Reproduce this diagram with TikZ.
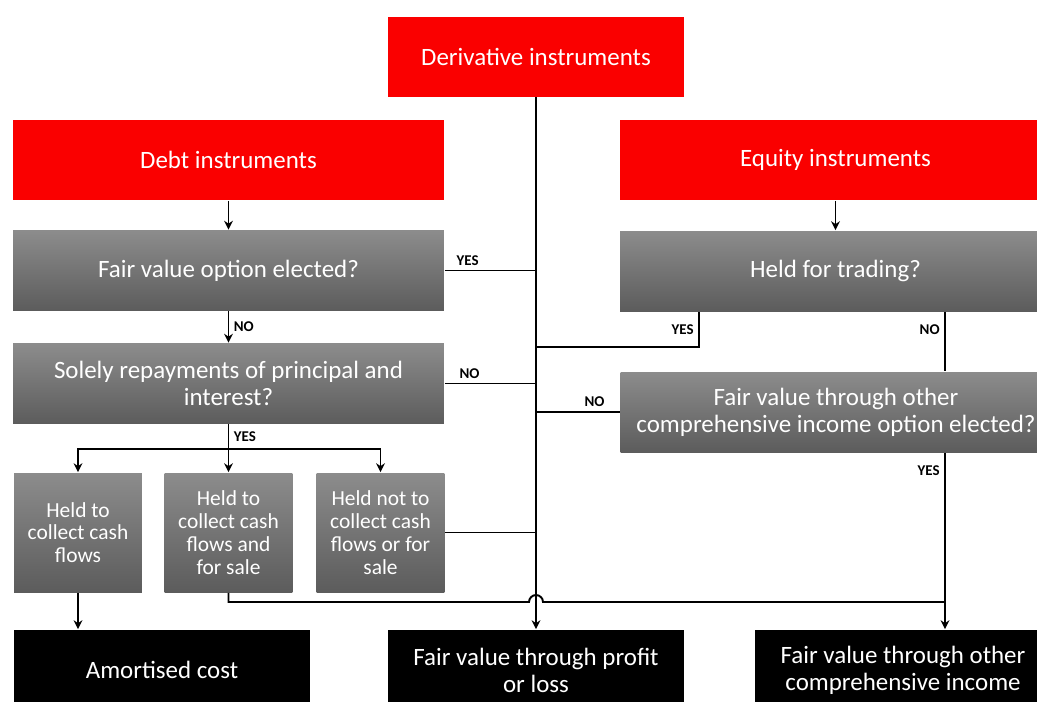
\documentclass[tikz,border=0pt]{standalone}
\usepackage{fontspec}
\setmainfont{Carlito}
\usetikzlibrary{arrows.meta, calc}
\definecolor{ifrsRed}{RGB}{250, 0, 0}
\definecolor{ifrsGreyTop}{RGB}{140, 140, 140}
\definecolor{ifrsGreyBottom}{RGB}{92, 92, 92}

\tikzset{
  bigtext/.style={font=\fontsize{14.2}{15.4}\selectfont},
  redbox/.style={fill=ifrsRed, text=white, inner sep=0pt, minimum height=1.6cm, bigtext},
  greybox/.style={top color=ifrsGreyTop, bottom color=ifrsGreyBottom, text=white, inner sep=0pt, align=center, minimum width=8.62cm, minimum height=1.6cm, bigtext},
  smallbox/.style={greybox, minimum width=2.56cm, minimum height=2.38cm, font=\fontsize{12.2}{13}\selectfont},
  blackbox/.style={fill=black, text=white, inner sep=0pt, align=center, minimum width=5.92cm, minimum height=1.6cm, bigtext},
  lbl/.style={font=\fontsize{8.5}{9}\selectfont\bfseries, inner sep=2.5pt},
  arr/.style={-{Stealth[length=5pt, width=5pt]}}
}

\begin{document}
\begin{tikzpicture}[x=0.02cm, y=-0.02cm, line width=1.1pt]
                \fill[white] (0,0) rectangle (1037,701);
                \clip (0,0) rectangle (1037,701);

                \node[redbox, minimum width=5.92cm] (deriv) at (536,56.5) {Derivative instruments};
                \node[redbox, minimum width=8.62cm] (debt) at (228.5,160) {Debt instruments};
                \node[redbox, minimum width=8.62cm] (equity) at (835.5,160) {Equity instruments};

                \node[greybox] (fvo) at (228.5,270.5) {Fair value option elected?};
                \node[greybox] (sol) at (228.5,383.5) {Solely repayments of principal and\\interest?};
                \node[greybox] (hft) at (835.5,271) {Held for trading?};
                \node[greybox] (ociq) at (836,412) {Fair value through other\\comprehensive income option elected?};

                \node[smallbox] (hc) at (78,532.5) {Held to\\collect cash\\flows};
                \node[smallbox] (hcs) at (228.5,532.5) {Held to\\collect cash\\flows and\\for sale};
                \node[smallbox] (hn) at (380.5,532.5) {Held not to\\collect cash\\flows or for\\sale};

                \node[blackbox] (amort) at (162,670) {Amortised cost};
                \node[blackbox] (fvtpl) at (536,670) {Fair value through profit\\or loss};
                \node[blackbox] (oci) at (903,670) {Fair value through other\\comprehensive income};

                \coordinate (split) at (228.5,449);
                \coordinate (yesturn) at (699,347);
                \coordinate (rline) at (945,0);
                \coordinate (hop) at (536,602);

                \draw[arr] (debt.south) -- (fvo.north);
                \draw[arr] (fvo.south) -- node[lbl, right] {NO} (sol.north);
                \draw (fvo.east) -- node[lbl, above, pos=0.25] {YES} (fvo.east -| deriv.south);
                \draw (sol.east) -- node[lbl, above, pos=0.27] {NO} (sol.east -| deriv.south);
                \draw (sol.south) -- node[lbl, right] {YES} (split);
                \draw[arr] (split) -| (hc.north);
                \draw[arr] (split) -- (hcs.north);
                \draw[arr] (split) -| (hn.north);
                \draw (hn.east) -- (hn.east -| deriv.south);
                \draw[arr] (hc.south) -- (hc.south |- amort.north);

                \draw[arr] (equity.south) -- (hft.north);
                \draw (hft.south -| yesturn) |- node[lbl, left, pos=0.25] {YES} (yesturn -| deriv.south);
                \draw (hft.south -| rline) -- node[lbl, left, pos=0.3] {NO} (ociq.north -| rline);
                \draw (ociq.west) -- node[lbl, above, pos=0.3] {NO} (ociq.west -| deriv.south);
                \draw[arr] (ociq.south -| rline) -- node[lbl, left, pos=0.1] {YES} (oci.north -| rline);

                \draw (hcs.south) |- ($(hop)+(-7,0)$) arc[start angle=180, end angle=0, radius=0.14cm] -- (hop -| rline);
                \draw[arr] (deriv.south) -- (fvtpl.north);
            \end{tikzpicture}
\end{document}
